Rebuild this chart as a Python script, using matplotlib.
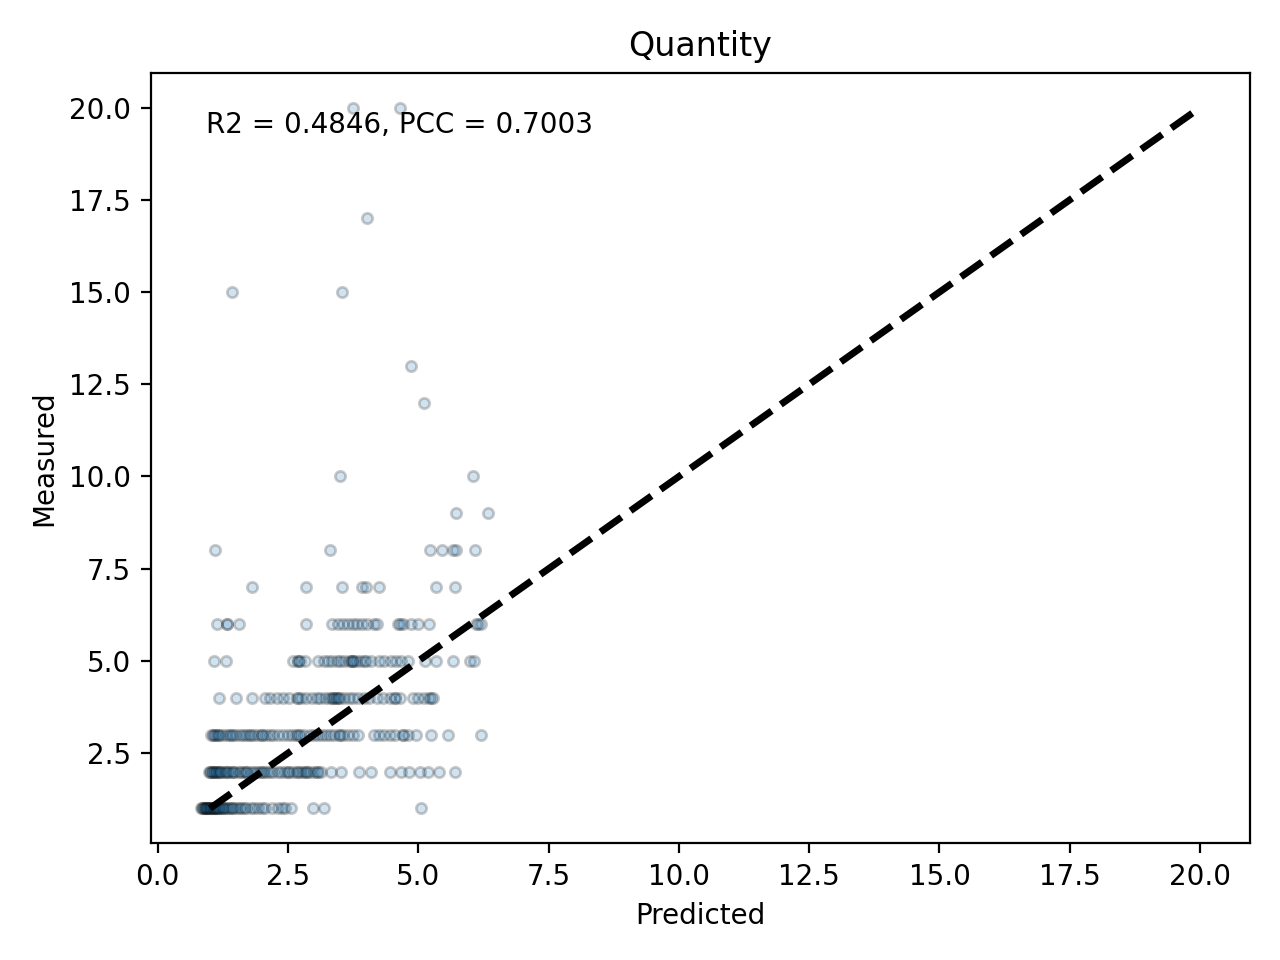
import numpy as np
import matplotlib
matplotlib.use("Agg")
import matplotlib.pyplot as plt

# predicted values, grouped by the measured quantity they belong to
PRED_BY_MEASURED = {
    1: [0.82, 0.85, 0.87, 0.88, 0.9, 0.92, 0.93, 0.95, 0.97, 0.98, 1.0, 1.02, 1.03,
        1.05, 1.07, 1.08, 1.1, 1.12, 1.13, 1.16, 1.18, 1.2, 1.23, 1.25, 1.27, 1.3,
        1.34, 1.38, 1.42, 1.45, 1.5, 1.55, 1.6, 1.65, 1.7, 1.78, 1.85, 1.92, 2.0,
        2.05, 2.2, 2.3, 2.38, 2.45, 2.55, 2.98, 3.18, 5.05],
    2: [0.98, 1.0, 1.02, 1.05, 1.06, 1.1, 1.12, 1.14, 1.18, 1.2, 1.22, 1.27, 1.3,
        1.32, 1.37, 1.42, 1.45, 1.48, 1.55, 1.6, 1.66, 1.7, 1.72, 1.78, 1.84, 1.9,
        1.97, 2.0, 2.03, 2.1, 2.16, 2.22, 2.3, 2.37, 2.45, 2.5, 2.52, 2.6, 2.67,
        2.7, 2.74, 2.8, 2.85, 2.87, 2.93, 3.0, 3.05, 3.07, 3.13, 3.32, 3.52, 3.86,
        4.1, 4.46, 4.66, 4.82, 5.03, 5.19, 5.4, 5.71],
    3: [1.02, 1.05, 1.07, 1.12, 1.15, 1.17, 1.23, 1.3, 1.37, 1.4, 1.44, 1.5, 1.57,
        1.64, 1.7, 1.75, 1.78, 1.85, 1.92, 2.0, 2.0, 2.07, 2.15, 2.22, 2.3, 2.4,
        2.5, 2.58, 2.65, 2.7, 2.72, 2.8, 2.92, 3.0, 3.08, 3.15, 3.22, 3.3, 3.38,
        3.48, 3.5, 3.56, 3.65, 3.75, 3.85, 4.15, 4.25, 4.35, 4.45, 4.55, 4.7, 4.7,
        4.8, 4.95, 5.25, 5.57, 6.2],
    4: [1.17, 1.51, 1.8, 2.05, 2.15, 2.28, 2.4, 2.52, 2.68, 2.7, 2.75, 2.85, 2.95,
        3.05, 3.12, 3.2, 3.28, 3.35, 3.36, 3.4, 3.43, 3.45, 3.5, 3.58, 3.66, 3.75,
        3.85, 3.95, 4.05, 4.2, 4.32, 4.45, 4.55, 4.55, 4.65, 4.9, 5.0, 5.1, 5.2,
        5.25, 5.28],
    5: [1.07, 1.3, 2.6, 2.7, 2.7, 2.72, 2.82, 3.08, 3.18, 3.27, 3.35, 3.43, 3.5,
        3.58, 3.66, 3.72, 3.72, 3.75, 3.8, 3.88, 3.95, 4.0, 4.1, 4.25, 4.35, 4.47,
        4.57, 4.67, 4.8, 5.13, 5.33, 5.67, 6.0, 6.06],
    6: [1.13, 1.32, 1.32, 1.55, 2.85, 3.35, 3.45, 3.55, 3.65, 3.75, 3.82, 3.92,
        4.02, 4.15, 4.2, 4.6, 4.65, 4.7, 4.85, 5.0, 5.2, 6.1, 6.15, 6.2],
    7: [1.8, 2.85, 3.54, 3.91, 4.0, 4.25, 5.34, 5.71],
    8: [1.09, 3.31, 5.23, 5.46, 5.67, 5.72, 6.09],
    9: [5.73, 6.34],
    10: [3.5, 6.05],
    12: [5.1],
    13: [4.85],
    15: [1.42, 3.54],
    17: [4.02],
    20: [3.75, 4.65],
}
R2 = 0.4846
PCC = 0.7003

pred = np.array([p for m, ps in PRED_BY_MEASURED.items() for p in ps])
meas = np.array([m for m, ps in PRED_BY_MEASURED.items() for p in ps], float)

fig, ax = plt.subplots(figsize=(6.4, 4.8), dpi=200)
ax.scatter(pred, meas, s=14, c="tab:blue", edgecolors="k", alpha=0.2)
lo, hi = meas.min(), meas.max()
ax.plot([lo, hi], [lo, hi], "k--", lw=2.5)
ax.text(0.05, 0.95, f"R2 = {R2:.4f}, PCC = {PCC:.4f}",
        transform=ax.transAxes, va="top", ha="left")
ax.set_xlabel("Predicted")
ax.set_ylabel("Measured")
ax.set_title("Quantity")
fig.tight_layout()
fig.savefig("out.png")
